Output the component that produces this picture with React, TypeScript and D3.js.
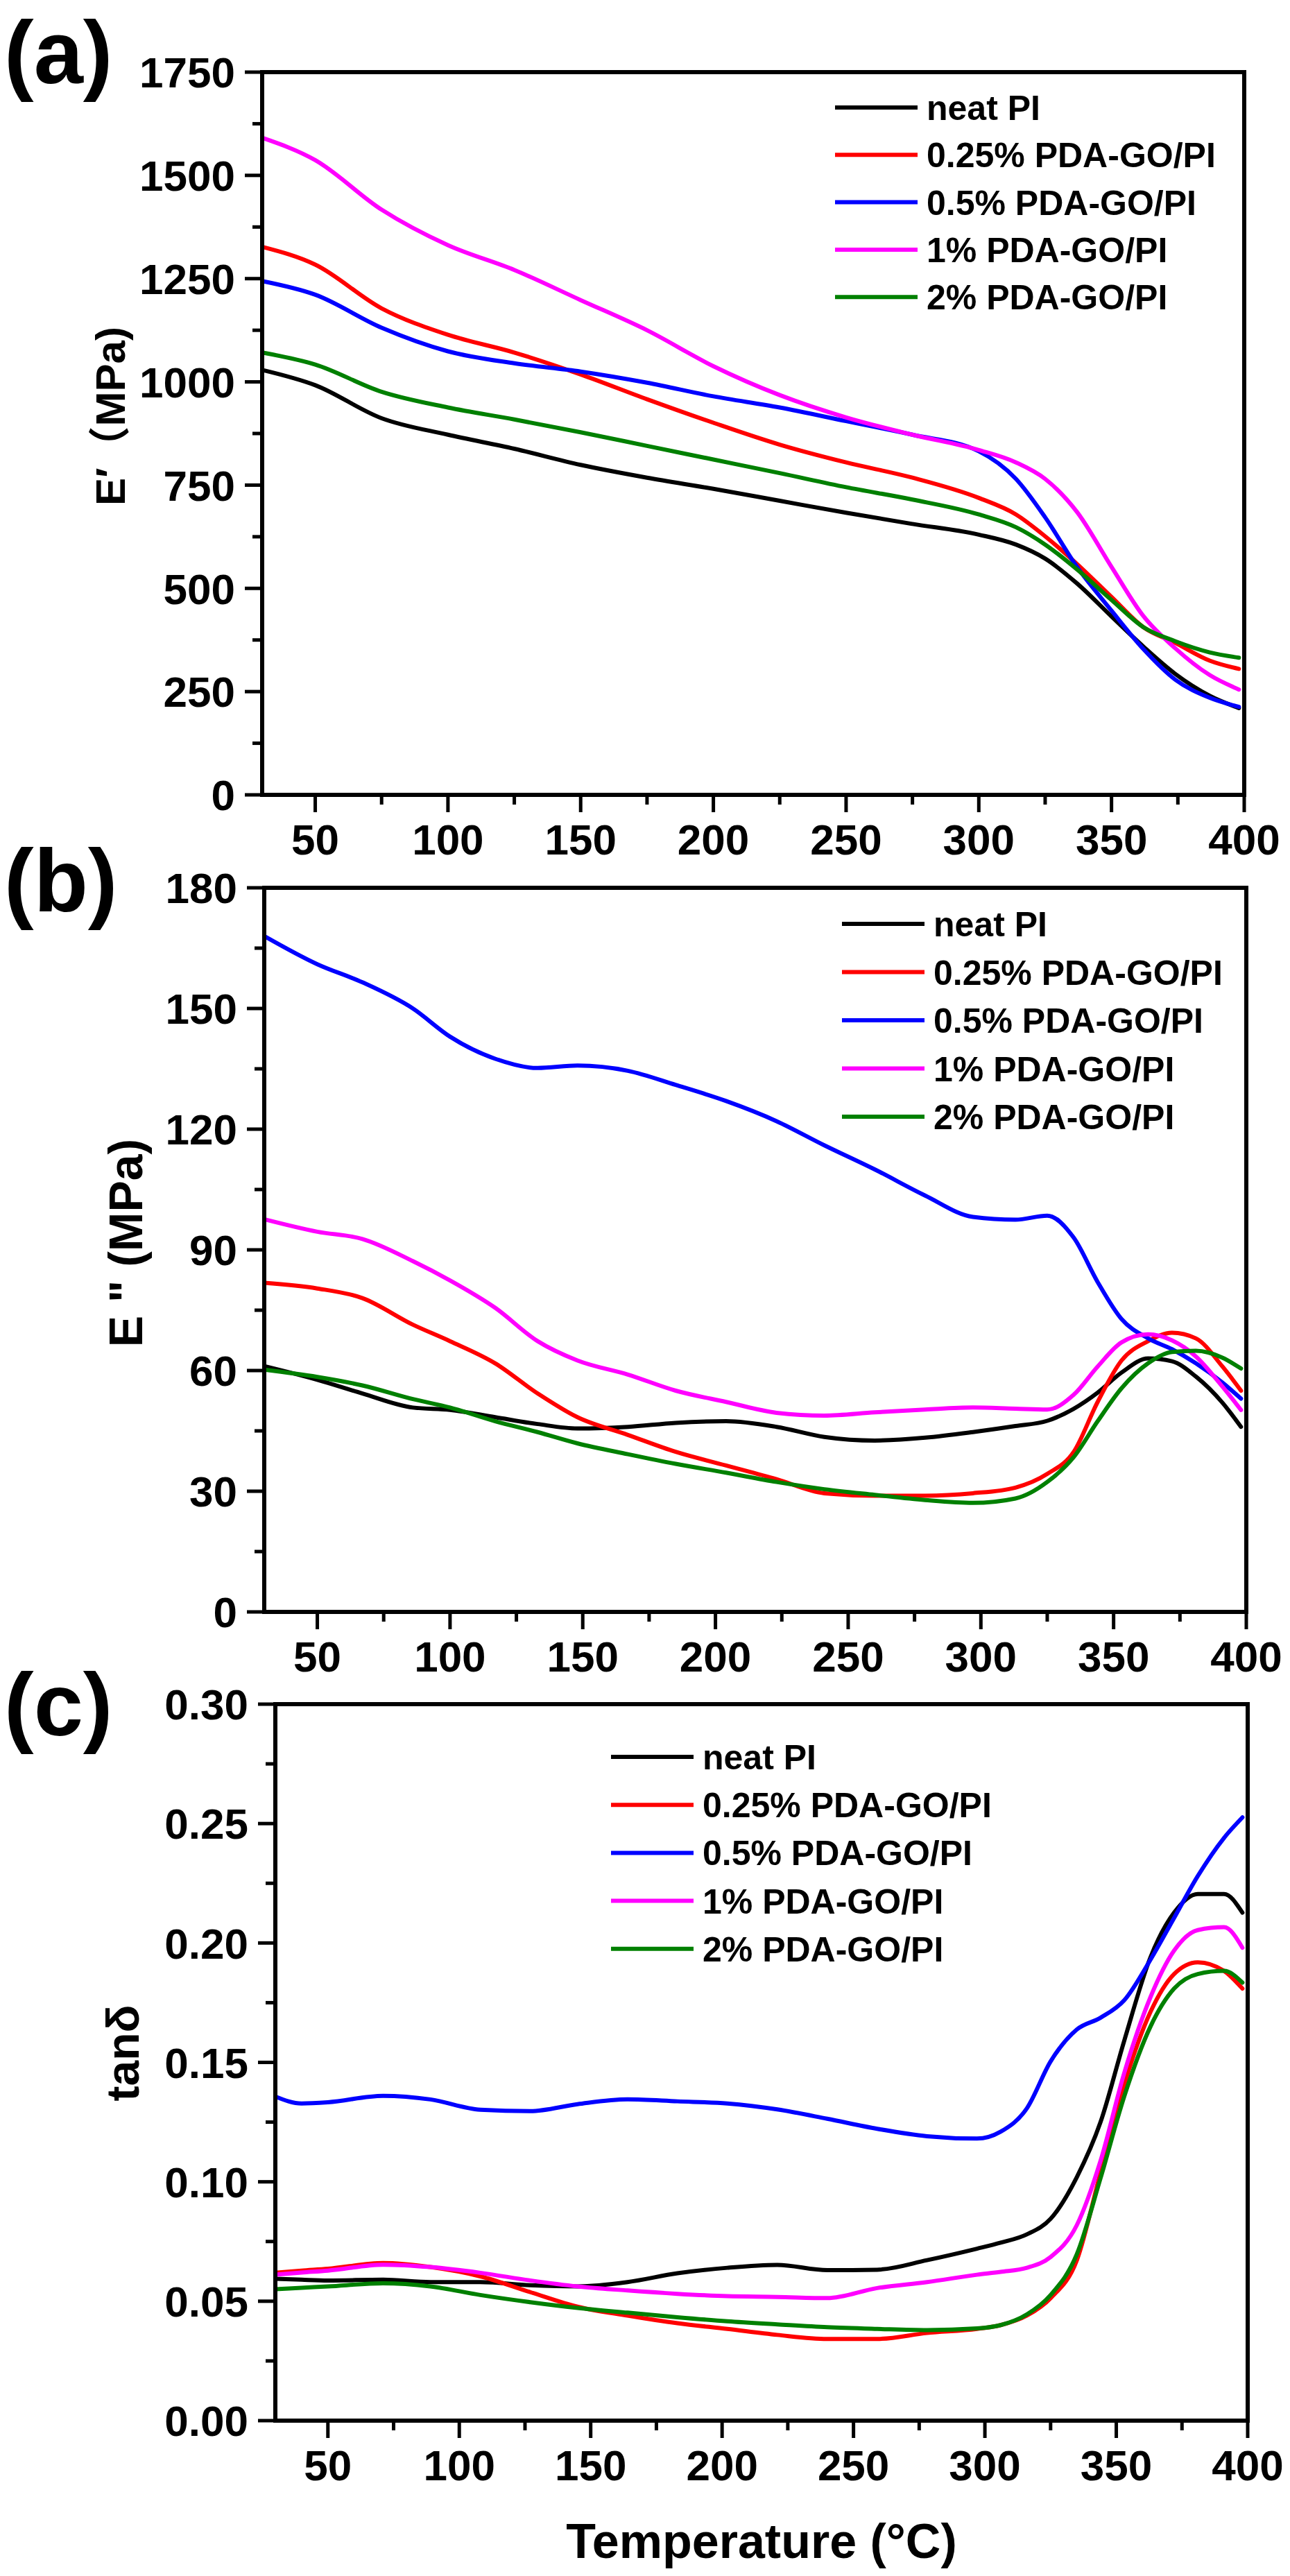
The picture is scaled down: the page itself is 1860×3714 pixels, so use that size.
import React from 'react';
import * as d3 from 'd3';

// ---------- data ----------
const SERIES_NAMES = ['neat PI', '0.25% PDA-GO/PI', '0.5% PDA-GO/PI', '1% PDA-GO/PI', '2% PDA-GO/PI'];
const SERIES_COLORS = ['#000000', '#ff0000', '#0000ff', '#ff00ff', '#008000'];
const X_TICKS = [50, 100, 150, 200, 250, 300, 350, 400];

// (a) storage modulus E' (MPa)
const TEMP_A = [30, 50, 75, 100, 125, 150, 175, 200, 225, 250, 275, 300, 314, 325, 337, 350, 362, 374, 387, 398];
const A_NEAT = [1029, 992, 912, 872, 838, 799, 768, 741, 712, 683, 656, 630, 606, 572, 512, 432, 359, 293, 240, 210];
const A_025 = [1327, 1284, 1178, 1114, 1071, 1018, 958, 901, 848, 805, 768, 719, 679, 626, 559, 479, 406, 368, 325, 305];
const A_05 = [1244, 1211, 1131, 1074, 1045, 1025, 998, 965, 938, 905, 872, 832, 765, 672, 552, 446, 353, 279, 235, 213];
const A_1 = [1591, 1537, 1417, 1331, 1271, 1198, 1125, 1038, 968, 914, 872, 835, 805, 765, 685, 552, 433, 355, 290, 255];
const A_2 = [1071, 1042, 976, 938, 909, 878, 845, 812, 779, 745, 715, 679, 648, 606, 546, 472, 406, 372, 345, 332];
const A_TICKS = [0, 250, 500, 750, 1000, 1250, 1500, 1750];

// (b) loss modulus E" (MPa)
const TEMP_B = [30, 50, 67, 86, 100, 117, 133, 148, 167, 185, 204, 223, 241, 260, 279, 297, 313, 325, 335, 344, 353, 363, 372, 381, 391, 398];
const B_NEAT = [61.1, 57.7, 54.3, 50.8, 50.2, 48.4, 46.7, 45.6, 46.0, 47.0, 47.4, 46.0, 43.5, 42.6, 43.3, 44.7, 46.2, 47.5, 50.5, 54.5, 59.5, 63.0, 62.3, 58.5, 52.0, 46.0];
const B_025 = [81.8, 80.4, 78.0, 71.4, 67.3, 61.8, 54.3, 48.4, 44.0, 39.8, 36.4, 33.0, 29.5, 28.9, 28.9, 29.5, 30.9, 34.3, 39.8, 52.2, 62.5, 67.3, 69.4, 68.0, 61.0, 55.0];
const B_05 = [168, 161, 156.5, 150, 143, 137.5, 135.2, 135.8, 134.5, 131, 127, 122, 116, 110, 103.5, 98.2, 97.5, 98.5, 93, 82, 72.8, 68, 65.3, 61.8, 57, 53];
const B_1 = [97.6, 94.5, 92.7, 87.2, 82.4, 75.6, 67.3, 62.5, 59.0, 55.0, 52.2, 49.5, 48.8, 49.6, 50.3, 50.8, 50.5, 50.3, 54.0, 61.0, 67.0, 69.0, 67.5, 63.5, 56.0, 50.2];
const B_2 = [60.2, 58.4, 56.3, 52.9, 50.8, 47.4, 44.7, 41.9, 39.2, 36.8, 34.6, 32.3, 30.5, 29.1, 27.8, 27.1, 28.2, 32.3, 38.5, 47.4, 55.6, 61.8, 64.6, 64.9, 63.2, 60.5];
const B_TICKS = [0, 30, 60, 90, 120, 150, 180];

// (c) tan delta
const TEMP_C = [30, 40, 50, 71, 89, 108, 127, 145, 164, 183, 202, 221, 240, 259, 278, 297, 306, 316, 325, 335, 344, 353, 363, 372, 381, 391, 398];
const C_NEAT = [0.0594, 0.059, 0.0587, 0.059, 0.058, 0.058, 0.0567, 0.0562, 0.058, 0.0617, 0.064, 0.0652, 0.063, 0.0632, 0.0672, 0.072, 0.0745, 0.078, 0.0845, 0.102, 0.125, 0.159, 0.194, 0.2127, 0.2205, 0.2205, 0.2127];
const C_025 = [0.0619, 0.0628, 0.0636, 0.066, 0.0643, 0.0604, 0.0538, 0.0477, 0.044, 0.0408, 0.0384, 0.0359, 0.0342, 0.0342, 0.0367, 0.0384, 0.04, 0.044, 0.0513, 0.0672, 0.1039, 0.1406, 0.1711, 0.187, 0.1919, 0.1883, 0.1809];
const C_05 = [0.1357, 0.1328, 0.1333, 0.136, 0.1345, 0.1302, 0.1296, 0.1325, 0.1345, 0.1337, 0.1328, 0.1303, 0.1264, 0.1222, 0.1191, 0.1181, 0.121, 0.1308, 0.1504, 0.1638, 0.1687, 0.176, 0.193, 0.2105, 0.228, 0.244, 0.2526];
const C_1 = [0.0611, 0.062, 0.0628, 0.0653, 0.0643, 0.0619, 0.0587, 0.0562, 0.0545, 0.0531, 0.0521, 0.0518, 0.0513, 0.0555, 0.058, 0.0611, 0.0623, 0.064, 0.0685, 0.0819, 0.1088, 0.1455, 0.1773, 0.1968, 0.2054, 0.2066, 0.198];
const C_2 = [0.055, 0.0556, 0.0562, 0.0575, 0.0562, 0.0526, 0.0496, 0.0472, 0.0452, 0.0433, 0.0416, 0.0403, 0.0391, 0.0384, 0.0379, 0.0386, 0.04, 0.0445, 0.0526, 0.0697, 0.1015, 0.1357, 0.165, 0.1809, 0.187, 0.1883, 0.1834];
const C_TICKS = [0, 0.05, 0.1, 0.15, 0.2, 0.25, 0.3];

// ---------- layout ----------
const FONT = "'Liberation Sans', Arial, Helvetica, 'Noto Sans CJK SC', sans-serif";
const W = 1860;
const H = 3714;

type Panel = {
  tag: string;
  left: number; right: number; top: number; bottom: number;
  yMax: number; yTicks: number[]; fmt: (v: number) => string;
  temps: number[]; series: number[][];
  title: string; titleSize: number; titleX: number; titleY: number;
  legX: number; legY: number; legDy: number;
  tagY: number;
};

const PANELS: Panel[] = [
  {
    tag: '(a)', left: 378, right: 1794, top: 104, bottom: 1146,
    yMax: 1750, yTicks: A_TICKS, fmt: (v) => String(v),
    temps: TEMP_A, series: [A_NEAT, A_025, A_05, A_1, A_2],
    title: 'E′（MPa)', titleSize: 60, titleX: 180, titleY: 600,
    legX: 1204, legY: 155, legDy: 68.3, tagY: 120,
  },
  {
    tag: '(b)', left: 381, right: 1797, top: 1280, bottom: 2324,
    yMax: 180, yTicks: B_TICKS, fmt: (v) => String(v),
    temps: TEMP_B, series: [B_NEAT, B_025, B_05, B_1, B_2],
    title: 'E " (MPa)', titleSize: 68, titleX: 205, titleY: 1792,
    legX: 1214, legY: 1332, legDy: 69.5, tagY: 1314,
  },
  {
    tag: '(c)', left: 397, right: 1799, top: 2457, bottom: 3490,
    yMax: 0.3, yTicks: C_TICKS, fmt: (v) => v.toFixed(2),
    temps: TEMP_C, series: [C_NEAT, C_025, C_05, C_1, C_2],
    title: 'tanδ', titleSize: 66, titleX: 200, titleY: 2960,
    legX: 881, legY: 2533, legDy: 69.2, tagY: 2502,
  },
];

const DRAW_ORDER = [0, 1, 2, 3, 4];

function PanelView({ p }: { p: Panel }) {
  const x = d3.scaleLinear().domain([30, 400]).range([p.left, p.right]);
  const y = d3.scaleLinear().domain([0, p.yMax]).range([p.bottom, p.top]);
  const line = d3
    .line<[number, number]>()
    .x((d) => x(d[0]))
    .y((d) => y(d[1]))
    .curve(d3.curveMonotoneX);

  const yStep = p.yTicks[1] - p.yTicks[0];
  const yMinor = p.yTicks.slice(0, -1).map((t) => t + yStep / 2);
  const xMinor = d3.range(75, 400, 50);

  const tickW = 5;
  const major = 25;
  const minor = 14;

  return (
    <g>
      {DRAW_ORDER.map((i) => (
        <path
          key={i}
          d={line(p.temps.map((t, k) => [t, p.series[i][k]] as [number, number])) || ''}
          fill="none"
          stroke={SERIES_COLORS[i]}
          strokeWidth={6}
          strokeLinejoin="round"
          strokeLinecap="round"
        />
      ))}

      <rect
        x={p.left}
        y={p.top}
        width={p.right - p.left}
        height={p.bottom - p.top}
        fill="none"
        stroke="#000"
        strokeWidth={6}
      />

      {p.yTicks.map((t) => (
        <g key={'y' + t}>
          <line x1={p.left - major} x2={p.left} y1={y(t)} y2={y(t)} stroke="#000" strokeWidth={tickW} />
          <text
            x={p.left - major - 14}
            y={y(t)}
            dy="0.36em"
            textAnchor="end"
            fontFamily={FONT}
            fontWeight="bold"
            fontSize={62}
          >
            {p.fmt(t)}
          </text>
        </g>
      ))}
      {yMinor.map((t) => (
        <line key={'ym' + t} x1={p.left - minor} x2={p.left} y1={y(t)} y2={y(t)} stroke="#000" strokeWidth={tickW} />
      ))}

      {X_TICKS.map((t) => (
        <g key={'x' + t}>
          <line x1={x(t)} x2={x(t)} y1={p.bottom} y2={p.bottom + major} stroke="#000" strokeWidth={tickW} />
          <text
            x={x(t)}
            y={p.bottom + 86}
            textAnchor="middle"
            fontFamily={FONT}
            fontWeight="bold"
            fontSize={62}
          >
            {t}
          </text>
        </g>
      ))}
      {xMinor.map((t) => (
        <line key={'xm' + t} x1={x(t)} x2={x(t)} y1={p.bottom} y2={p.bottom + minor} stroke="#000" strokeWidth={tickW} />
      ))}

      <text
        transform={`translate(${p.titleX},${p.titleY}) rotate(-90)`}
        textAnchor="middle"
        fontFamily={FONT}
        fontWeight="bold"
        fontSize={p.titleSize}
      >
        {p.title}
      </text>

      <text x={6} y={p.tagY} fontFamily={FONT} fontWeight="bold" fontSize={128}>
        {p.tag}
      </text>

      {SERIES_NAMES.map((name, i) => {
        const ly = p.legY + i * p.legDy;
        return (
          <g key={'l' + i}>
            <line x1={p.legX} x2={p.legX + 119} y1={ly} y2={ly} stroke={SERIES_COLORS[i]} strokeWidth={6} />
            <text
              x={p.legX + 132}
              y={ly}
              dy="0.36em"
              fontFamily={FONT}
              fontWeight="bold"
              fontSize={50}
            >
              {name}
            </text>
          </g>
        );
      })}
    </g>
  );
}

export default function App() {
  const last = PANELS[2];
  return (
    <svg
      width={W}
      height={H}
      viewBox={`0 0 ${W} ${H}`}
      style={{ position: 'absolute', left: 0, top: 0, background: '#fff', display: 'block' }}
    >
      <rect x={0} y={0} width={W} height={H} fill="#fff" />
      {PANELS.map((p) => (
        <PanelView key={p.tag} p={p} />
      ))}
      <text
        x={(last.left + last.right) / 2}
        y={3688}
        textAnchor="middle"
        fontFamily={FONT}
        fontWeight="bold"
        fontSize={70}
      >
        Temperature (°C)
      </text>
    </svg>
  );
}
